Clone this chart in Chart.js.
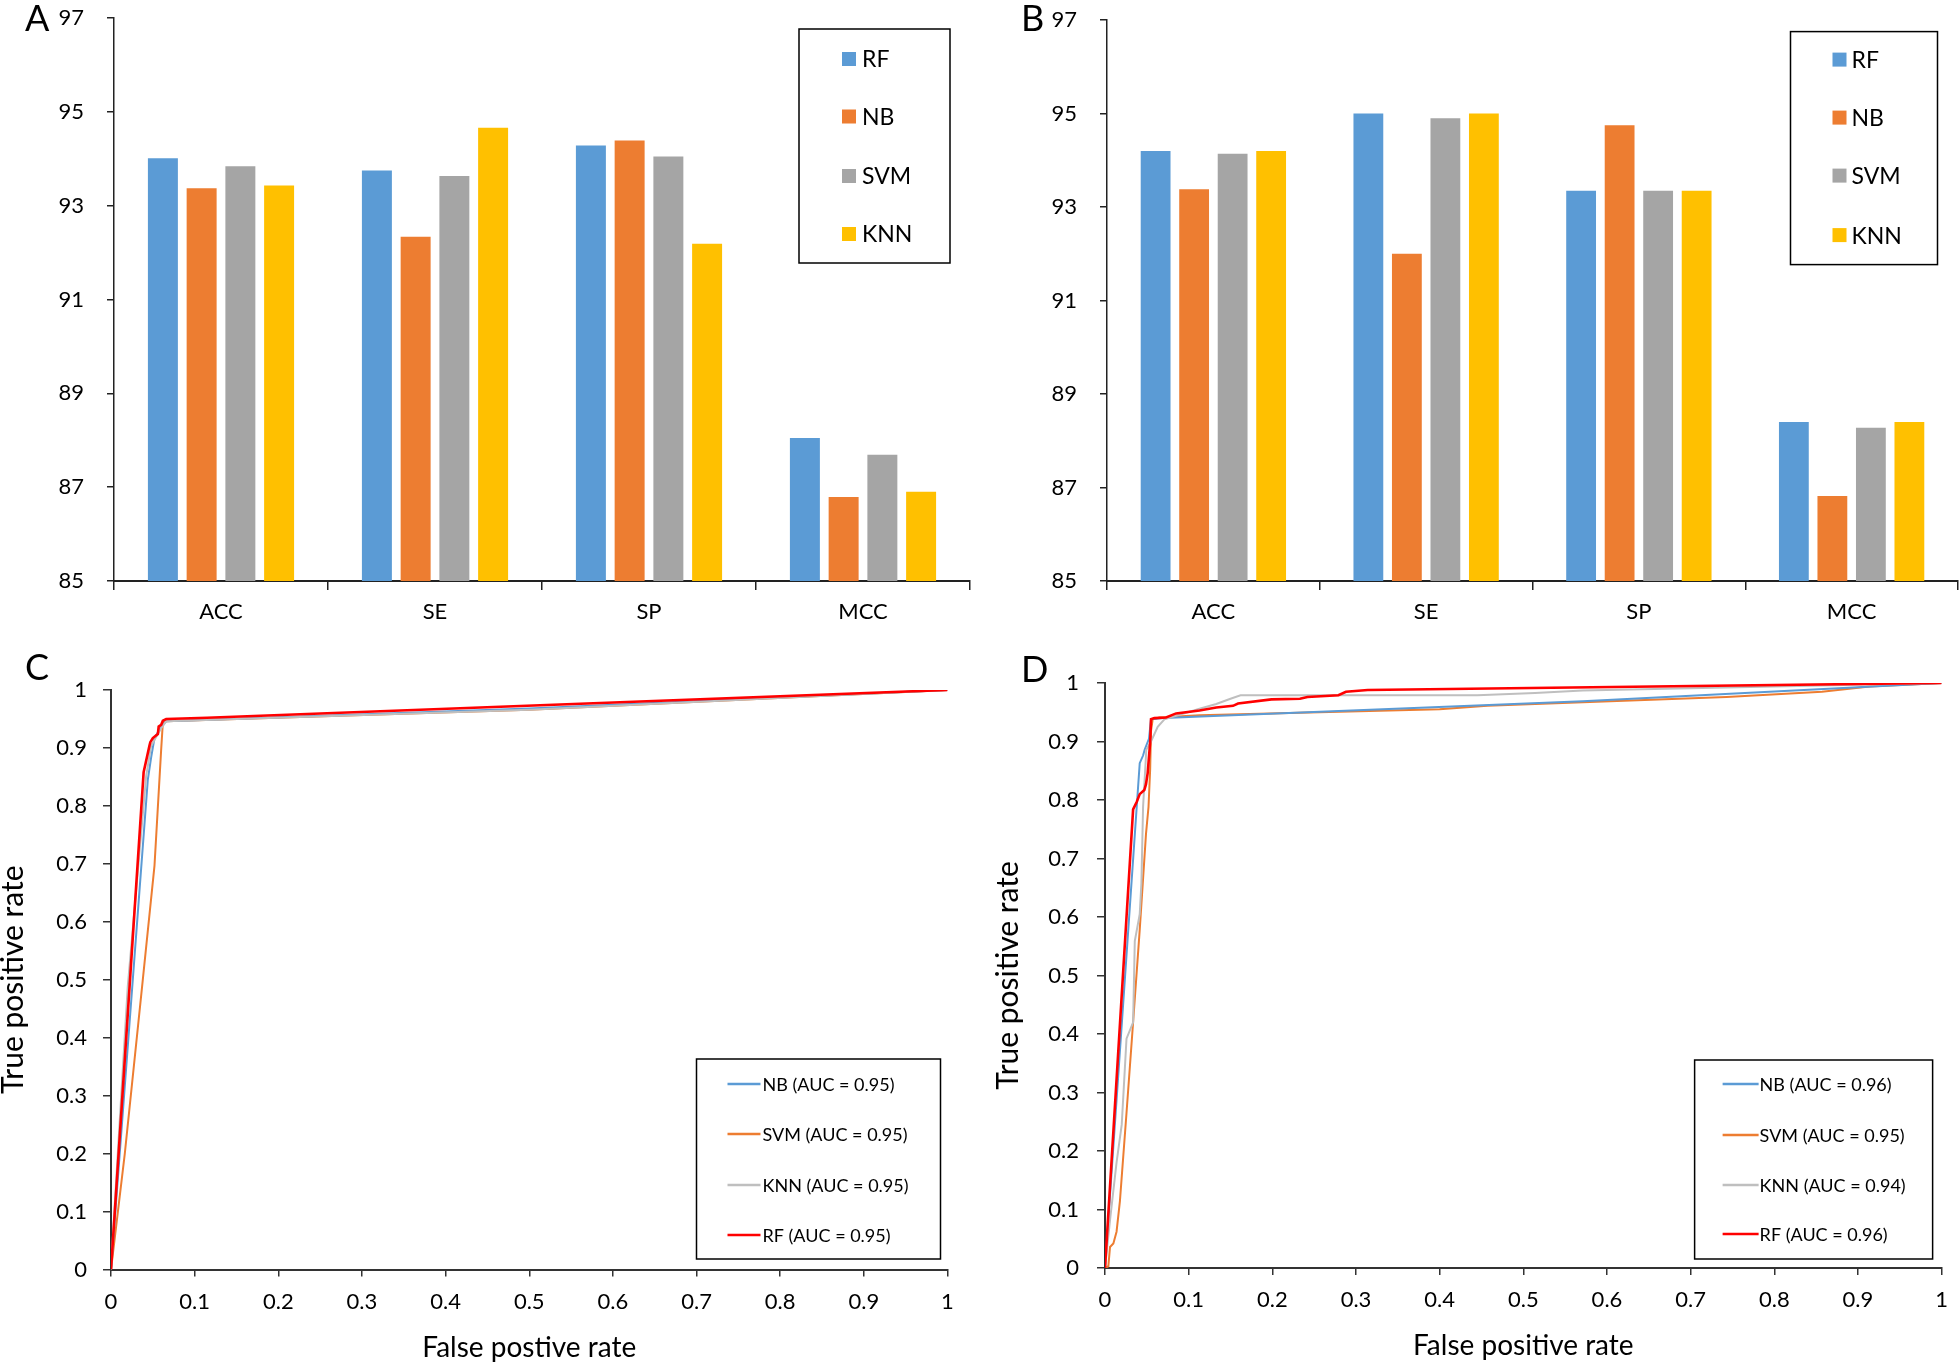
<!DOCTYPE html>
<html>
<head>
<meta charset="utf-8">
<script src="https://cdn.jsdelivr.net/npm/chart.js@4.4.1/dist/chart.umd.min.js"></script>
<style>
  html, body { margin: 0; padding: 0; background: #fff; }
  body { width: 1960px; height: 1366px; position: relative; overflow: hidden; font-family: Lato, "Open Sans", sans-serif; }
  canvas { position: absolute; }
  .tag { position: absolute; font-size: 36px; color: #000; line-height: 1; }
</style>
</head>
<body>
<canvas id="chartA" width="980" height="640" style="left:0;top:0;width:980px;height:640px"></canvas>
<canvas id="chartB" width="980" height="640" style="left:980px;top:0;width:980px;height:640px"></canvas>
<canvas id="chartC" width="980" height="726" style="left:0;top:640px;width:980px;height:726px"></canvas>
<canvas id="chartD" width="980" height="726" style="left:980px;top:640px;width:980px;height:726px"></canvas>
<div class="tag" style="left:25px;top:-1px">A</div>
<div class="tag" style="left:1021px;top:-1px">B</div>
<div class="tag" style="left:25px;top:648px">C</div>
<div class="tag" style="left:1021px;top:650px">D</div>
<script>
// ---- bar charts (A, B) ----
const categories = ['ACC', 'SE', 'SP', 'MCC'];
const models = ['RF', 'NB', 'SVM', 'KNN'];
const barColors = ['#5B9BD5', '#ED7D31', '#A5A5A5', '#FFC000'];
const barTicks = [85, 87, 89, 91, 93, 95, 97];

const rfA = [94.01, 93.75, 94.28, 88.05];
const nbA = [93.37, 92.34, 94.39, 86.79];
const svmA = [93.84, 93.63, 94.05, 87.69];
const knnA = [93.43, 94.66, 92.19, 86.90];

const rfB = [94.20, 95.00, 93.35, 88.40];
const nbB = [93.38, 92.00, 94.75, 86.82];
const svmB = [94.14, 94.90, 93.35, 88.28];
const knnB = [94.20, 95.00, 93.35, 88.40];

// ---- ROC curves (C, D) ----
const rocTicks = [0, 0.1, 0.2, 0.3, 0.4, 0.5, 0.6, 0.7, 0.8, 0.9, 1];
const rocNames = ['NB', 'SVM', 'KNN', 'RF'];
const rocColors = ['#5B9BD5', '#ED7D31', '#BFBFBF', '#FF0000'];
const aucC = ['0.95', '0.95', '0.95', '0.95'];
const aucD = ['0.96', '0.95', '0.94', '0.96'];

const nbC_fpr = [0, 0.044, 0.048, 0.052, 0.060, 0.066, 0.5, 1];
const nbC_tpr = [0, 0.845, 0.884, 0.917, 0.937, 0.946, 0.968, 1];
const svmC_fpr = [0, 0.0165, 0.038, 0.052, 0.060, 0.062, 0.066, 0.5, 1];
const svmC_tpr = [0, 0.2, 0.5, 0.697, 0.898, 0.944, 0.946, 0.966, 1];
const knnC_fpr = [0, 0.005, 0.020, 0.036, 0.042, 0.048, 0.060, 0.066, 0.5, 1];
const knnC_tpr = [0, 0.125, 0.488, 0.752, 0.851, 0.904, 0.934, 0.946, 0.966, 1];
const rfC_fpr = [0, 0.039, 0.046, 0.047, 0.050, 0.056, 0.057, 0.060, 0.062, 0.066, 0.115, 1];
const rfC_tpr = [0, 0.858, 0.904, 0.910, 0.917, 0.924, 0.937, 0.940, 0.947, 0.950, 0.952, 1];

const nbD_fpr = [0, 0.0415, 0.0455, 0.0474, 0.0526, 0.055, 0.070, 0.571, 1];
const nbD_tpr = [0, 0.863, 0.876, 0.886, 0.905, 0.938, 0.940, 0.969, 1];
const svmD_fpr = [0, 0.004, 0.006, 0.010, 0.0138, 0.0178, 0.0257, 0.0336, 0.0415, 0.049, 0.052, 0.054, 0.055, 0.057, 0.065, 0.113, 0.400, 0.457, 0.743, 0.857, 0.914, 1];
const svmD_tpr = [0, 0.003, 0.036, 0.042, 0.062, 0.114, 0.265, 0.420, 0.578, 0.742, 0.788, 0.853, 0.918, 0.938, 0.941, 0.945, 0.955, 0.961, 0.976, 0.985, 0.994, 1];
const knnD_fpr = [0, 0.006, 0.0138, 0.020, 0.0257, 0.0336, 0.0356, 0.0415, 0.0435, 0.0455, 0.0494, 0.055, 0.063, 0.071, 0.113, 0.133, 0.150, 0.162, 0.445, 0.514, 0.571, 1];
const knnD_tpr = [0, 0.082, 0.180, 0.245, 0.392, 0.420, 0.559, 0.605, 0.657, 0.788, 0.886, 0.900, 0.925, 0.938, 0.956, 0.964, 0.973, 0.979, 0.979, 0.983, 0.987, 1];
const rfD_fpr = [0, 0.0336, 0.038, 0.0415, 0.047, 0.049, 0.051, 0.054, 0.055, 0.059, 0.073, 0.085, 0.113, 0.133, 0.153, 0.159, 0.199, 0.233, 0.242, 0.279, 0.288, 0.314, 1];
const rfD_tpr = [0, 0.784, 0.797, 0.810, 0.817, 0.827, 0.846, 0.899, 0.938, 0.940, 0.941, 0.948, 0.953, 0.958, 0.961, 0.965, 0.972, 0.973, 0.976, 0.979, 0.985, 0.988, 1];

const FONT = 'Lato, "Open Sans", sans-serif';

// legend drawn as a framed box inside the plot area
const boxLegend = {
  id: 'boxLegend',
  afterDraw(chart, args, o) {
    const { ctx, chartArea } = chart;
    const bx = chartArea.right - o.right - o.width;
    const by = o.top != null ? chartArea.top + o.top : chartArea.bottom - o.bottom - o.height;
    ctx.save();
    ctx.strokeStyle = '#000';
    ctx.lineWidth = 1.5;
    ctx.strokeRect(bx, by, o.width, o.height);
    ctx.font = o.fontSize + 'px ' + FONT;
    ctx.fillStyle = '#000';
    ctx.textBaseline = 'middle';
    ctx.textAlign = 'left';
    chart.data.datasets.forEach((ds, i) => {
      const y = by + o.rows[i];
      const col = ds.legendColor || ds.borderColor;
      if (o.kind === 'square') {
        ctx.fillStyle = col;
        ctx.fillRect(bx + o.sampleX, y - o.sampleW / 2, o.sampleW, o.sampleW);
      } else {
        ctx.strokeStyle = col;
        ctx.lineWidth = 2.5;
        ctx.beginPath();
        ctx.moveTo(bx + o.sampleX, y);
        ctx.lineTo(bx + o.sampleX + o.sampleW, y);
        ctx.stroke();
      }
      ctx.fillStyle = '#000';
      ctx.fillText(ds.label, bx + o.textX, y + 1);
    });
    ctx.restore();
  }
};

function makeBar(id, series, yWidth, pad, legendOpts) {
  new Chart(document.getElementById(id), {
    type: 'bar',
    data: {
      labels: categories,
      datasets: series.map((vals, i) => ({
        label: models[i],
        data: vals,
        backgroundColor: barColors[i],
        legendColor: barColors[i],
        borderWidth: 0,
        barPercentage: 0.774,
        categoryPercentage: 0.724
      }))
    },
    options: {
      responsive: false,
      animation: false,
      layout: { padding: { left: pad.left, top: pad.top, right: pad.right, bottom: 0 } },
      plugins: { legend: { display: false }, tooltip: { enabled: false }, boxLegend: legendOpts },
      scales: {
        x: {
          afterFit: (s) => { s.height = 640 - pad.top - pad.plotH; },
          grid: { drawOnChartArea: false, drawTicks: true, tickLength: 9, color: '#222', lineWidth: 1.5 },
          border: { display: true, color: '#222', width: 2 },
          ticks: { color: '#000', font: { family: FONT, size: 22 }, padding: 9 }
        },
        y: {
          min: 85, max: 97,
          afterFit: (s) => { s.width = yWidth; s.paddingTop = 12; s.paddingBottom = 0; },
          afterBuildTicks: (s) => { s.ticks = barTicks.map(v => ({ value: v })); },
          grid: { drawOnChartArea: false, drawTicks: true, tickLength: 7, color: '#222', lineWidth: 1.5 },
          border: { display: true, color: '#222', width: 1.5 },
          ticks: { color: '#000', font: { family: FONT, size: 22 }, padding: 23 }
        }
      }
    },
    plugins: [boxLegend]
  });
}

makeBar('chartA', [rfA, nbA, svmA, knnA], 114, { left: 0, top: 18, right: 10, plotH: 563 },
  { kind: 'square', right: 20, top: 11, width: 151, height: 234, rows: [30, 87.5, 147, 205], sampleX: 43, sampleW: 14, textX: 63, fontSize: 23 });
makeBar('chartB', [rfB, nbB, svmB, knnB], 127, { left: 0, top: 20, right: 2, plotH: 561 },
  { kind: 'square', right: 20.5, top: 11.6, width: 147, height: 233, rows: [28, 86, 144, 203.5], sampleX: 42, sampleW: 14, textX: 61, fontSize: 23 });

function rocPoints(fpr, tpr) {
  return fpr.map((x, i) => ({ x: x, y: tpr[i] }));
}

function makeRoc(id, curves, auc, cfg, xTitle) {
  const drawOrder = [2, 3, 1, 0];
  new Chart(document.getElementById(id), {
    type: 'line',
    data: {
      datasets: curves.map((c, i) => ({
        label: rocNames[i] + ' (AUC = ' + auc[i] + ')',
        data: rocPoints(c[0], c[1]),
        borderColor: rocColors[i],
        borderWidth: i === 3 ? 2.6 : 2,
        pointRadius: 0,
        tension: 0,
        fill: false,
        order: drawOrder[i]
      }))
    },
    options: {
      responsive: false,
      animation: false,
      layout: { padding: cfg.pad },
      plugins: { legend: { display: false }, tooltip: { enabled: false }, boxLegend: cfg.legend },
      scales: {
        x: {
          type: 'linear', min: 0, max: 1,
          afterFit: (s) => { s.height = cfg.xHeight; },
          afterBuildTicks: (s) => { s.ticks = rocTicks.map(v => ({ value: v })); },
          grid: { drawOnChartArea: false, drawTicks: true, tickLength: 7, color: '#333', lineWidth: 1.5 },
          border: { display: true, color: '#333', width: 2 },
          ticks: { color: '#000', font: { family: FONT, size: 22 }, padding: 12, callback: (v) => String(v) },
          title: { display: true, text: xTitle, color: '#000', font: { family: FONT, size: 28, lineHeight: 1.2 }, padding: { top: 0, bottom: cfg.xTitlePad } }
        },
        y: {
          type: 'linear', min: 0, max: 1,
          afterFit: (s) => { s.width = cfg.yWidth; },
          afterBuildTicks: (s) => { s.ticks = rocTicks.map(v => ({ value: v })); },
          grid: { drawOnChartArea: false, drawTicks: true, tickLength: 8, color: '#333', lineWidth: 1.5 },
          border: { display: true, color: '#333', width: 2 },
          ticks: { color: '#000', font: { family: FONT, size: 22 }, padding: cfg.yTickPad, callback: (v) => String(v) },
          title: { display: true, text: 'True positive rate', align: 'center', color: '#000', font: { family: FONT, size: 30, lineHeight: 0.9 }, padding: { top: cfg.yTitlePad, bottom: 0 } }
        }
      }
    },
    plugins: [boxLegend]
  });
}

makeRoc('chartC',
  [[nbC_fpr, nbC_tpr], [svmC_fpr, svmC_tpr], [knnC_fpr, knnC_tpr], [rfC_fpr, rfC_tpr]],
  aucC,
  { pad: { left: 0, top: 50, right: 32.5, bottom: 0 }, xHeight: 96.4, yWidth: 111, yTickPad: 16, xTitlePad: 1, yTitlePad: 0,
    legend: { kind: 'line', right: 7, bottom: 10.6, width: 244, height: 200, rows: [25, 75, 126, 176], sampleX: 31, sampleW: 33, textX: 66, fontSize: 18 } },
  'False postive rate');

makeRoc('chartD',
  [[nbD_fpr, nbD_tpr], [svmD_fpr, svmD_tpr], [knnD_fpr, knnD_tpr], [rfD_fpr, rfD_tpr]],
  aucD,
  { pad: { left: 0, top: 43, right: 10, bottom: 0 }, xHeight: 98, yWidth: 125, yTickPad: 18, xTitlePad: 3, yTitlePad: 15,
    legend: { kind: 'line', right: 9, bottom: 9, width: 238, height: 199, rows: [24, 75, 125, 174], sampleX: 28, sampleW: 36, textX: 65, fontSize: 18 } },
  'False positive rate');
</script>
</body>
</html>
